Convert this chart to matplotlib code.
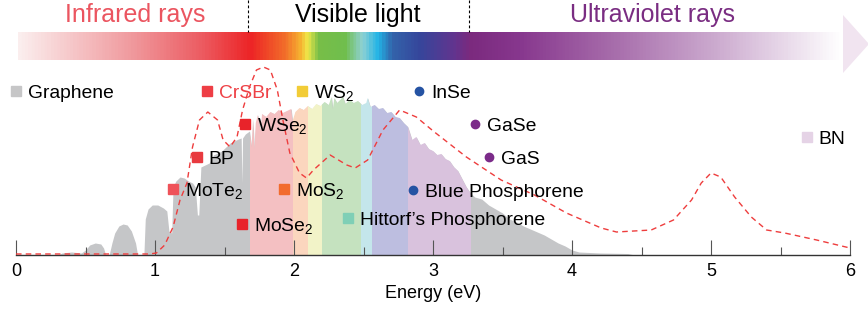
import numpy as np
import matplotlib
matplotlib.use("Agg")
import matplotlib.pyplot as plt
from matplotlib.colors import LinearSegmentedColormap
from matplotlib.patches import Polygon

plt.rcParams["font.family"] = ["Liberation Sans", "DejaVu Sans"]
plt.rcParams["mathtext.fontset"] = "custom"
plt.rcParams["mathtext.rm"] = "Liberation Sans"
plt.rcParams["mathtext.it"] = "Liberation Sans:italic"
plt.rcParams["mathtext.default"] = "regular"

########################################################################################
# Data

# Solar spectrum (gray area), energy in eV, intensity in a.u.
spec_energy = [0.00, 0.30, 0.33, 0.40, 0.47, 0.50, 0.53, 0.57, 0.61, 0.63,
               0.645, 0.67, 0.69, 0.71, 0.74, 0.77, 0.80, 0.83, 0.86, 0.875,
               0.92, 0.93, 0.95, 0.98, 1.02, 1.06, 1.085, 1.10, 1.12, 1.13,
               1.15, 1.18, 1.21, 1.24, 1.27, 1.29, 1.305, 1.315, 1.33, 1.36,
               1.39, 1.42, 1.45, 1.48, 1.51, 1.54, 1.57, 1.60, 1.62, 1.625,
               1.63, 1.65, 1.68, 1.695, 1.705, 1.715, 1.725, 1.74, 1.76, 1.77,
               1.80, 1.83, 1.86, 1.89, 1.92, 1.95, 1.98, 1.99, 2.01, 2.04,
               2.07, 2.10, 2.13, 2.16, 2.19, 2.22, 2.25, 2.27, 2.28, 2.29,
               2.31, 2.34, 2.35, 2.37, 2.40, 2.43, 2.46, 2.49, 2.52, 2.53,
               2.55, 2.58, 2.61, 2.64, 2.67, 2.70, 2.73, 2.76, 2.79, 2.82,
               2.85, 2.88, 2.91, 2.94, 2.97, 3.00, 3.03, 3.06, 3.09, 3.12,
               3.15, 3.18, 3.21, 3.24, 3.27, 3.30, 3.35, 3.40, 3.45, 3.50,
               3.55, 3.60, 3.65, 3.70, 3.75, 3.80, 3.85, 3.90, 3.95, 4.00,
               4.05, 4.20, 4.40, 4.45, 6.00]
spec_intensity = [0, 0, 2, 3, 2, 5, 10, 12, 11, 7,
                  0, 0, 12, 22, 29, 31, 30, 24, 12, 0,
                  0, 36, 46, 50, 50, 47, 44, 24, 22, 68,
                  74, 78, 77, 74, 72, 68, 40, 40, 88, 90,
                  92, 100, 102, 104, 108, 112, 114, 116, 117, 72,
                  117, 121, 124, 108, 136, 106, 132, 140, 124, 141,
                  138, 143, 141, 145, 142, 144, 146, 134, 143, 147,
                  145, 149, 146, 151, 149, 153, 150, 158, 146, 157,
                  152, 156, 159, 151, 155, 152, 154, 150, 152, 157,
                  148, 150, 146, 147, 142, 143, 138, 137, 132, 128,
                  115, 118, 110, 112, 106, 104, 100, 101, 96, 94,
                  88, 84, 76, 68, 62, 58, 56, 50, 46, 42,
                  36, 33, 29, 26, 23, 20, 16, 12, 9, 5,
                  3, 2, 1.5, 0, 0]

# Colour bands over the spectrum (edges in eV)
band_edges = [1.68, 1.99, 2.10, 2.20, 2.48, 2.56, 2.82, 3.27]
band_colors = ["#f4c0c2", "#fbd6be", "#f2f3c8", "#c5e2bf", "#c4e6eb", "#bdbee0", "#d9c2dd"]

# Red dashed curve
curve_energy = [0.00, 0.50, 0.96, 1.01, 1.07, 1.13, 1.18, 1.23, 1.27, 1.32,
                1.38, 1.45, 1.49, 1.54, 1.59, 1.63, 1.68, 1.73, 1.78, 1.83,
                1.88, 1.92, 1.97, 2.04, 2.09, 2.14, 2.26, 2.38, 2.44, 2.53,
                2.64, 2.76, 2.88, 3.01, 3.24, 3.49, 3.73, 3.96, 4.21, 4.32,
                4.57, 4.73, 4.86, 4.93, 5.00, 5.07, 5.17, 5.29, 5.40, 5.53,
                5.76, 6.00]
curve_intensity = [1, 1, 1, 2, 10, 28, 55, 72, 108, 135,
                   143, 135, 115, 108, 118, 145, 168, 185, 188, 185,
                   165, 135, 102, 82, 77, 85, 100, 90, 87, 95,
                   125, 145, 138, 123, 98, 75, 60, 42, 27, 23,
                   25, 35, 55, 72, 82, 78, 58, 38, 25, 22,
                   15, 7]

# Materials (marker position in eV / a.u.)
mat_names = ["Graphene", "CrSBr", "WS$_2$", "InSe", "WSe$_2$", "BP", "MoTe$_2$",
             "MoS$_2$", "MoSe$_2$", "Hittorf\u2019s Phosphorene", "Blue Phosphorene",
             "GaSe", "GaS", "BN"]
mat_energy = [0.0, 1.374, 2.058, 2.90, 1.647, 1.302, 1.13,
              1.928, 1.626, 2.388, 2.856, 3.302, 3.403, 5.691]
mat_level = [164, 164, 164, 164, 131, 98, 66,
             66, 31, 37, 65, 131, 98, 118]
mat_marker = ["s", "s", "s", "o", "s", "s", "s",
              "s", "s", "s", "o", "o", "o", "s"]
mat_color = ["#c6c6c7", "#ee3e45", "#f2cc37", "#2553a3", "#e8232a", "#e83a3f", "#ef5259",
             "#f26b2d", "#e8232a", "#7fcfb6", "#2553a3", "#7b2b89", "#7b2b89", "#e5d3e6"]
mat_text_color = ["black", "#ee4146", "black", "black", "black", "black", "black",
                  "black", "black", "black", "black", "black", "black", "black"]

# Banner gradient stops (pixel x, colour)
grad_x = [18, 130, 200, 250, 285, 300, 307, 318, 345, 362, 378, 392, 420, 455, 470,
          520, 620, 720, 843]
grad_colors = ["#fbeeee", "#f09a9e", "#ec5c62", "#ed2426", "#f26e2a", "#f6b431", "#efe94a",
               "#78be48", "#70be4e", "#8fd2d4", "#22b4e6", "#3364ab", "#36469b", "#63348e",
               "#7b2a7e", "#87378e", "#a970ad", "#cdacd0", "#ffffff"]

########################################################################################

fig = plt.figure(figsize=(8.68, 3.10), dpi=100)

# Banner drawn in pixel coordinates
top = fig.add_axes([0, 0, 1, 1])
norm_x = [(x - grad_x[0]) / (grad_x[-1] - grad_x[0]) for x in grad_x]
cmap = LinearSegmentedColormap.from_list("spectrum", list(zip(norm_x, grad_colors)))
top.imshow(np.linspace(0, 1, 900)[None, :], cmap=cmap, extent=(18, 843, 60, 32), aspect="auto")
top.add_patch(Polygon([(843, 15), (869, 44), (843, 73)], closed=True, color="#f1e4f0", lw=0))
for xd in [248, 469]:
    top.plot([xd, xd], [0, 32], color="black", lw=0.8, dashes=(2.5, 2))
top.text(135, 22, "Infrared rays", color="#eb5560", fontsize=18, ha="center", va="baseline")
top.text(358, 22, "Visible light", color="black", fontsize=18, ha="center", va="baseline")
top.text(652, 22, "Ultraviolet rays", color="#7a2d82", fontsize=18, ha="center", va="baseline")
top.set_xlim(0, 868)
top.set_ylim(310, 0)
top.axis("off")

# Main plot
ax = fig.add_axes([16 / 868, 55 / 310, 834 / 868, 200 / 310])
ax.set_facecolor("none")

fill = ax.fill_between(spec_energy, spec_intensity, 0, color="#c5c6c8", lw=0, zorder=1)
clip = fill.get_paths()[0]
for lo, hi, c in zip(band_edges[:-1], band_edges[1:], band_colors):
    span = ax.axvspan(lo, hi, color=c, lw=0, zorder=1.1)
    span.set_clip_path(clip, ax.transData)

ax.plot(curve_energy, curve_intensity, color="#ee3d3d", lw=1.0, dashes=(4, 3), zorder=3)

for name, e, lev, m, c, tc in zip(mat_names, mat_energy, mat_level, mat_marker,
                                  mat_color, mat_text_color):
    ax.plot([e], [lev], marker=m, ms=6.5 if m == "s" else 6, color=c, lw=0,
            clip_on=False, zorder=4)
    ax.annotate(name, (e, lev), xytext=(8.5, -5.0), textcoords="offset points",
                fontsize=13.9, color=tc, va="baseline", ha="left", zorder=4)

ax.set_xlim(0, 6)
ax.set_ylim(0, 200)
for s in ["left", "right", "top"]:
    ax.spines[s].set_visible(False)
ax.spines["bottom"].set_linewidth(1.0)
ax.spines["bottom"].set_color("#333333")
ax.set_yticks([])
ax.set_xticks(range(7))
ax.set_xticks(np.arange(0.5, 6, 1), minor=True)
ax.tick_params(axis="x", which="major", direction="in", length=11, width=0.8,
               color="#555555", labelsize=13, pad=6)
ax.tick_params(axis="x", which="minor", direction="in", length=5.5, width=0.8,
               color="#555555")
for lab in ax.get_xticklabels():
    lab.set_family(["Liberation Sans Narrow", "Liberation Sans"])
ax.set_xlabel("Energy (eV)", fontsize=13, labelpad=3,
              family=["Liberation Sans Narrow", "Liberation Sans"])

fig.savefig("out.png", dpi=100)
